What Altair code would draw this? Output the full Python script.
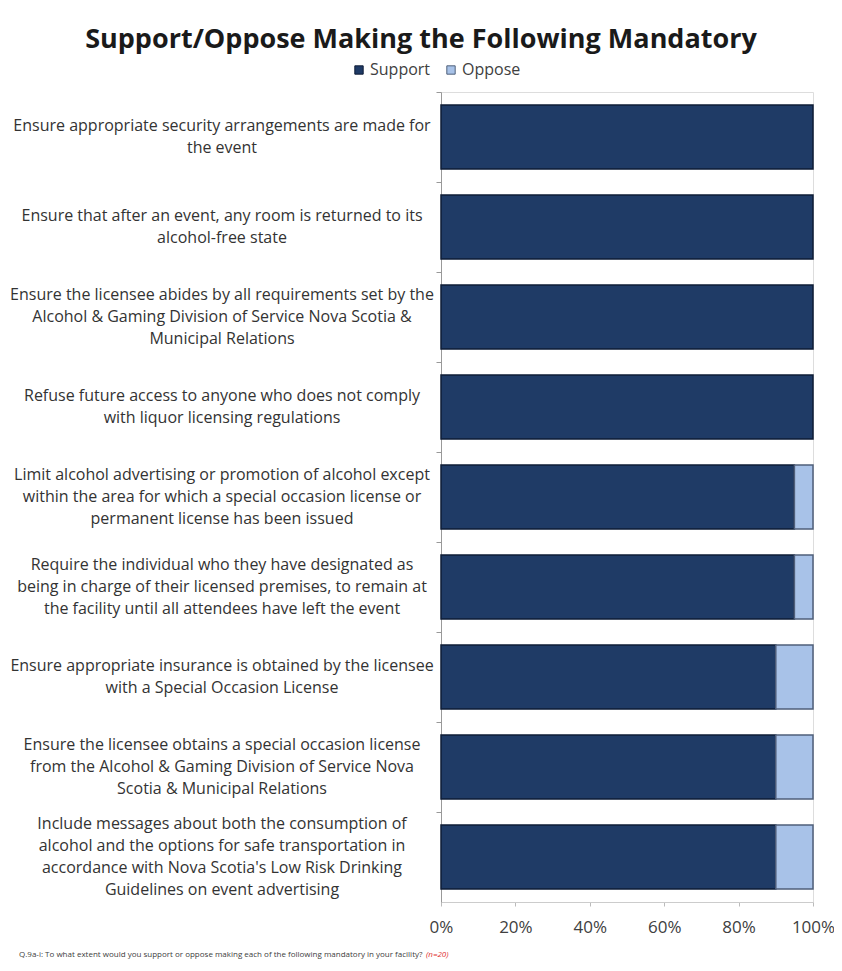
import altair as alt
import pandas as pd

categories = [
    "Ensure appropriate security arrangements are made for|the event",
    "Ensure that after an event, any room is returned to its|alcohol-free state",
    "Ensure the licensee abides by all requirements set by the|Alcohol & Gaming Division of Service Nova Scotia &|Municipal Relations",
    "Refuse future access to anyone who does not comply|with liquor licensing regulations",
    "Limit alcohol advertising or promotion of alcohol except|within the area for which a special occasion license or|permanent license has been issued",
    "Require the individual who they have designated as|being in charge of their licensed premises, to remain at|the facility until all attendees have left the event",
    "Ensure appropriate insurance is obtained by the licensee|with a Special Occasion License",
    "Ensure the licensee obtains a special occasion license|from the Alcohol & Gaming Division of Service Nova|Scotia & Municipal Relations",
    "Include messages about both the consumption of|alcohol and the options for safe transportation in|accordance with Nova Scotia's Low Risk Drinking|Guidelines on event advertising",
]
support = [100, 100, 100, 100, 95, 95, 90, 90, 90]
oppose = [0, 0, 0, 0, 5, 5, 10, 10, 10]
series = ["Support", "Oppose"]
x_ticks = [0, 20, 40, 60, 80, 100]

title_text = "Support/Oppose Making the Following Mandatory"
footnote = "Q.9a-i: To what extent would you support or oppose making each of the following mandatory in your facility?"
footnote_n = "(n=20)"

rows = []
for c, s, o in zip(categories, support, oppose):
    if s > 0:
        rows.append({"cat": c, "series": "Support", "value": s, "ord": 0})
    if o > 0:
        rows.append({"cat": c, "series": "Oppose", "value": o, "ord": 1})
df = pd.DataFrame(rows)
cat_df = pd.DataFrame({"cat": categories})

FONT = "Open Sans"
LINE_H = 22
HEIGHT = 810
STEP = HEIGHT / len(categories)

y_scale = alt.Scale(paddingInner=0, paddingOuter=0)
y_axis = alt.Axis(
    title=None,
    labels=False,
    bandPosition=0,
    tickSize=5,
    tickColor="#999999",
    domainColor="#999999",
)

bars = alt.Chart(df).mark_bar(size=64, strokeWidth=1.5).encode(
    y=alt.Y("cat:N", sort=categories, scale=y_scale, axis=y_axis),
    x=alt.X(
        "value:Q",
        stack="zero",
        scale=alt.Scale(domain=[0, 100], nice=False),
        axis=alt.Axis(
            title=None,
            values=x_ticks,
            labelExpr="datum.value + '%'",
            labelFlush=False,
            grid=False,
            labelFont=FONT,
            labelFontSize=17,
            labelColor="#404040",
            labelPadding=13,
            tickSize=4,
            tickColor="#bbbbbb",
            domainColor="#cccccc",
        ),
    ),
    color=alt.Color(
        "series:N",
        sort=series,
        scale=alt.Scale(domain=series, range=["#1f3b66", "#a8c2e8"]),
        legend=alt.Legend(
            title=None,
            orient="none",
            legendX=-90,
            legendY=-30,
            direction="horizontal",
            symbolType="square",
            symbolSize=70,
            symbolStrokeWidth=1,
            labelFont=FONT,
            labelFontSize=16,
            labelColor="#404040",
            columnPadding=12,
            labelOffset=3,
        ),
    ),
    stroke=alt.Stroke(
        "series:N",
        sort=series,
        scale=alt.Scale(domain=series, range=["#0e1c36", "#4f5f7a"]),
        legend=None,
    ),
    order=alt.Order("ord:Q"),
)

labels = alt.Chart(cat_df).transform_calculate(
    off=f"{STEP / 2} - (length(split(datum.cat, '|')) - 1) * {LINE_H / 2}"
).mark_text(
    align="center",
    baseline="middle",
    lineBreak="|",
    lineHeight=LINE_H,
    font=FONT,
    fontSize=16,
    color="#333333",
).encode(
    y=alt.Y("cat:N", sort=categories, scale=y_scale, axis=y_axis),
    yOffset=alt.YOffset("off:Q", scale=None),
    x=alt.value(-219),
    text="cat:N",
)

fn_df = pd.DataFrame({"t": [footnote], "n": [footnote_n]})
fn1 = alt.Chart(fn_df).mark_text(
    align="left", baseline="middle", font=FONT, fontSize=8, color="#404040"
).encode(x=alt.value(-422), y=alt.value(863), text="t:N")
fn2 = alt.Chart(fn_df).mark_text(
    align="left", baseline="middle", font=FONT, fontSize=8, fontStyle="italic", color="#e03030"
).encode(x=alt.value(-15), y=alt.value(863), text="n:N")

chart = alt.layer(bars, labels, fn1, fn2).properties(
    width=372,
    height=HEIGHT,
    title=alt.TitleParams(
        title_text,
        anchor="middle",
        dx=-206,
        offset=8,
        font=FONT,
        fontSize=27,
        fontWeight="bold",
        color="#1a1a1a",
    ),
    autosize=alt.AutoSizeParams(type="none"),
    padding={"left": 433, "top": 84, "right": 21, "bottom": 60},
).configure_view(stroke=None).configure(background="white")

chart.save("out.html", embed_options={"renderer": "svg", "actions": False})
